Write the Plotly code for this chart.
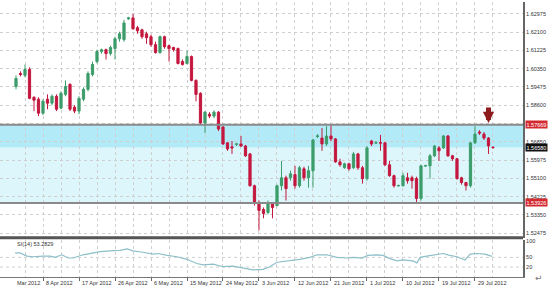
import plotly.graph_objects as go

# ---------------- data ----------------
opens = [1.5950,1.6012,1.6003,1.6031,1.5898,1.5889,1.5822,1.5889,1.5870,1.5903,
         1.5846,1.5912,1.5960,1.5851,1.5832,1.5889,1.5936,1.6007,1.6069,1.6117,
         1.6126,1.6107,1.6131,1.6178,1.6174,1.6273,1.6278,1.6231,1.6221,1.6202,
         1.6188,1.6150,1.6112,1.6188,1.6145,1.6136,1.6131,1.6069,1.6060,1.6093,
         1.5979,1.5917,1.5775,1.5817,1.5808,1.5827,1.5756,1.5680,1.5661,1.5673,
         1.5675,1.5665,1.5627,1.5475,1.5390,1.5361,1.5347,1.5390,1.5380,1.5475,
         1.5513,1.5513,1.5528,1.5475,1.5556,1.5513,1.5547,1.5711,1.5703,1.5675,
         1.5713,1.5699,1.5589,1.5561,1.5580,1.5561,1.5627,1.5561,1.5509,1.5689,
         1.5679,1.5681,1.5680,1.5575,1.5523,1.5474,1.5475,1.5513,1.5513,1.5509,
         1.5414,1.5569,1.5570,1.5618,1.5656,1.5656,1.5713,1.5618,1.5604,1.5513,
         1.5490,1.5475,1.5680,1.5732,1.5722,1.5703,1.5660]
highs = [1.6003,1.6022,1.6055,1.6041,1.5903,1.5898,1.5889,1.5912,1.5912,1.5912,
         1.5927,1.5979,1.5965,1.5860,1.5903,1.5946,1.6022,1.6069,1.6126,1.6131,
         1.6131,1.6145,1.6188,1.6212,1.6269,1.6283,1.6297,1.6240,1.6226,1.6212,
         1.6197,1.6164,1.6193,1.6193,1.6150,1.6140,1.6136,1.6079,1.6121,1.6098,
         1.5984,1.5922,1.5832,1.5827,1.5836,1.5832,1.5760,1.5684,1.5689,1.5680,
         1.5713,1.5670,1.5632,1.5480,1.5404,1.5371,1.5404,1.5395,1.5480,1.5594,
         1.5523,1.5547,1.5570,1.5570,1.5566,1.5570,1.5699,1.5722,1.5751,1.5760,
         1.5770,1.5703,1.5604,1.5585,1.5585,1.5637,1.5632,1.5570,1.5665,1.5694,
         1.5689,1.5718,1.5684,1.5594,1.5528,1.5480,1.5537,1.5537,1.5523,1.5518,
         1.5575,1.5575,1.5627,1.5670,1.5665,1.5718,1.5718,1.5623,1.5608,1.5518,
         1.5494,1.5684,1.5760,1.5741,1.5732,1.5708,1.5661]
lows = [1.5936,1.5998,1.5993,1.5889,1.5832,1.5808,1.5813,1.5841,1.5860,1.5832,
        1.5841,1.5903,1.5832,1.5822,1.5817,1.5879,1.5927,1.5998,1.6060,1.6107,
        1.6079,1.6098,1.6079,1.6164,1.6164,1.6269,1.6221,1.6202,1.6178,1.6154,
        1.6140,1.6107,1.6107,1.6131,1.6069,1.6117,1.6055,1.6050,1.6055,1.5974,
        1.5879,1.5770,1.5727,1.5798,1.5798,1.5737,1.5670,1.5642,1.5627,1.5665,
        1.5661,1.5613,1.5471,1.5380,1.5262,1.5319,1.5338,1.5319,1.5376,1.5452,
        1.5404,1.5499,1.5461,1.5466,1.5499,1.5466,1.5466,1.5703,1.5642,1.5665,
        1.5689,1.5585,1.5566,1.5556,1.5547,1.5556,1.5551,1.5485,1.5499,1.5665,
        1.5675,1.5642,1.5570,1.5518,1.5466,1.5471,1.5471,1.5485,1.5461,1.5390,
        1.5404,1.5566,1.5509,1.5613,1.5594,1.5651,1.5613,1.5594,1.5504,1.5480,
        1.5452,1.5466,1.5675,1.5718,1.5694,1.5627,1.5651]
closes = [1.5988,1.6007,1.6031,1.5893,1.5884,1.5822,1.5879,1.5870,1.5903,1.5841,
          1.5917,1.5950,1.5841,1.5832,1.5893,1.5936,1.6012,1.6055,1.6117,1.6126,
          1.6107,1.6136,1.6178,1.6202,1.6254,1.6278,1.6226,1.6216,1.6188,1.6183,
          1.6150,1.6112,1.6188,1.6140,1.6131,1.6126,1.6060,1.6055,1.6093,1.5979,
          1.5912,1.5775,1.5827,1.5808,1.5827,1.5746,1.5675,1.5651,1.5656,1.5675,
          1.5665,1.5618,1.5475,1.5390,1.5357,1.5342,1.5390,1.5371,1.5475,1.5513,
          1.5461,1.5532,1.5475,1.5561,1.5513,1.5547,1.5694,1.5713,1.5675,1.5713,
          1.5699,1.5589,1.5575,1.5580,1.5556,1.5627,1.5561,1.5509,1.5656,1.5675,
          1.5681,1.5679,1.5575,1.5523,1.5475,1.5476,1.5523,1.5499,1.5499,1.5414,
          1.5570,1.5571,1.5618,1.5665,1.5642,1.5713,1.5618,1.5604,1.5509,1.5490,
          1.5475,1.5680,1.5722,1.5727,1.5703,1.5665,1.5658]

rsi_x = [-0.2,0.9,2.4,3.8,6,7.6,8.7,10.2,11.6,12.7,14.9,17.1,18.7,20.9,23.1,24.7,26,28.2,30.4,31.6,
         33.6,35.8,38,40.2,41.6,43.8,46,48.2,50.4,52.7,54.9,56.4,58,60.9,63.1,65.3,66.9,69.1,71.3,73.6,
         74.9,76.9,78.2,80.2,81.6,83.1,84.7,86,88.2,89.1,89.8,91.3,93.6,94.9,96.4,98,99.8,100.9,102.4,104.2,
         105.8]
rsi_v = [64,64,54,52,54,54,50,58,48,48,58,64,68,70,72,76,70,66,60,62,
         56,52,44,31,27,29,21,23,17,11,13,21,35,39,44,50,58,58,50,48,
         50,48,56,58,56,46,39,42,39,33,50,54,58,62,56,52,42,60,62,60,
         53.28]

price_ticks = [1.52475,1.53350,1.54225,1.55100,1.55975,1.56850,1.57725,
               1.58600,1.59475,1.60350,1.61225,1.62100,1.62975]
rsi_ticks = [20, 50, 100]

date_labels = ["Mar 2012","8 Apr 2012","17 Apr 2012","26 Apr 2012","6 May 2012","15 May 2012",
               "24 May 2012","3 Jun 2012","12 Jun 2012","21 Jun 2012","1 Jul 2012","10 Jul 2012",
               "19 Jul 2012","29 Jul 2012"]
date_bars = [-0.4,6,14,22,30,38,46,54,62,70,78,86,94,102]
grid_minor = [2,10,18,26,34,42,50,58,66,74,82,90,98,106]

resistance = 1.57669
support = 1.53926
last_price = 1.56580
rsi_label = "SI(14) 53.2829"
arrow_bar = 105

# ---------------- styling ----------------
GREEN = "#3c9d6b"
RED = "#c4173e"
GRID = "#cfcfcf"
FONT = "Liberation Sans"
FS = 5.5

bars = list(range(len(opens)))

fig = go.Figure()
fig.add_trace(go.Candlestick(
    x=bars, open=opens, high=highs, low=lows, close=closes,
    increasing=dict(line=dict(color=GREEN, width=1), fillcolor=GREEN),
    decreasing=dict(line=dict(color=RED, width=1), fillcolor=RED),
    whiskerwidth=0, xaxis="x", yaxis="y", showlegend=False, hoverinfo="skip"))
fig.add_trace(go.Scatter(
    x=rsi_x, y=rsi_v, mode="lines", line=dict(color="#8dbfc9", width=1.2),
    xaxis="x", yaxis="y2", showlegend=False, hoverinfo="skip"))

shapes = [
    dict(type="rect", xref="paper", x0=0, x1=1, yref="y", y0=support, y1=last_price,
         fillcolor="#dcf6fb", line=dict(width=0), layer="below"),
    dict(type="rect", xref="paper", x0=0, x1=1, yref="y", y0=last_price, y1=resistance,
         fillcolor="#b2ebf7", line=dict(width=0), layer="below"),
    dict(type="line", xref="paper", x0=0, x1=1, yref="y", y0=resistance, y1=resistance,
         line=dict(color="#8a8a8a", width=2)),
    dict(type="line", xref="paper", x0=0, x1=1, yref="y", y0=support, y1=support,
         line=dict(color="#8a8a8a", width=2)),
    dict(type="line", xref="paper", x0=0, x1=1, yref="paper", y0=0.1426, y1=0.1426,
         line=dict(color="#555555", width=3)),
]
for lv in [20, 50]:
    shapes.append(dict(type="line", xref="paper", x0=0, x1=1, yref="y2", y0=lv, y1=lv,
                       line=dict(color=GRID, width=1, dash="dot"), layer="below"))

annotations = []
for txt, b in zip(date_labels, date_bars):
    annotations.append(dict(x=b, xref="x", y=0, yref="paper", text=txt, showarrow=False,
                            xanchor="left", yanchor="top", xshift=1, yshift=-1,
                            font=dict(family=FONT, size=FS, color="#333")))
for val, bg in [(resistance, "#d42a2f"), (last_price, "#111111"), (support, "#d42a2f")]:
    annotations.append(dict(x=1, xref="paper", y=val, yref="y", text=f"{val:.5f}",
                            showarrow=False, xanchor="left", yanchor="middle", xshift=2,
                            bgcolor=bg, borderpad=0.5,
                            font=dict(family=FONT, size=FS, color="white")))
annotations.append(dict(x=15/523, xref="paper", y=0.121, yref="paper", text=rsi_label,
                        showarrow=False, xanchor="left", yanchor="middle",
                        font=dict(family=FONT, size=FS, color="#333")))
annotations.append(dict(x=arrow_bar, xref="x", y=1.5775, yref="y", text="", showarrow=True,
                        ax=0, ay=-17, arrowhead=2, arrowsize=0.45, arrowwidth=5,
                        arrowcolor="#8e1b1b"))
annotations.append(dict(x=1.042, xref="paper", y=-0.03, yref="paper", text="↵",
                        showarrow=False, font=dict(family="DejaVu Sans", size=9, color="#777")))

fig.update_layout(
    width=560, height=298,
    margin=dict(l=0, r=37, t=0, b=21),
    paper_bgcolor="white", plot_bgcolor="white",
    showlegend=False,
    font=dict(family=FONT, size=FS, color="#333"),
    xaxis=dict(range=[-3.556, 112.67], anchor="y2", tickvals=date_bars[1:],
               showticklabels=False, ticks="outside", ticklen=3, tickcolor="#666",
               showgrid=True, gridcolor=GRID, griddash="dot", gridwidth=1,
               minor=dict(tickvals=grid_minor, showgrid=True, gridcolor=GRID,
                          griddash="dot", ticks=""),
               zeroline=False, showline=True, linecolor="#777", linewidth=1,
               rangeslider=dict(visible=False), fixedrange=True),
    yaxis=dict(domain=[0.1408, 1], range=[1.52235, 1.6354], side="right",
               tickvals=price_ticks, ticktext=[f"{v:.5f}" for v in price_ticks],
               tickfont=dict(family=FONT, size=FS, color="#333"),
               showgrid=True, gridcolor=GRID, griddash="dot", gridwidth=1,
               showline=True, linecolor="#666", linewidth=2, zeroline=False, ticks=""),
    yaxis2=dict(domain=[0, 0.1336], range=[-10.9, 103.1], side="right",
                tickvals=rsi_ticks, ticktext=[str(v) for v in rsi_ticks],
                tickfont=dict(family=FONT, size=FS, color="#333"),
                showgrid=False, showline=True, linecolor="#666", linewidth=2,
                zeroline=False, ticks=""),
    shapes=shapes,
    annotations=annotations,
)

fig.write_html("out.html")
